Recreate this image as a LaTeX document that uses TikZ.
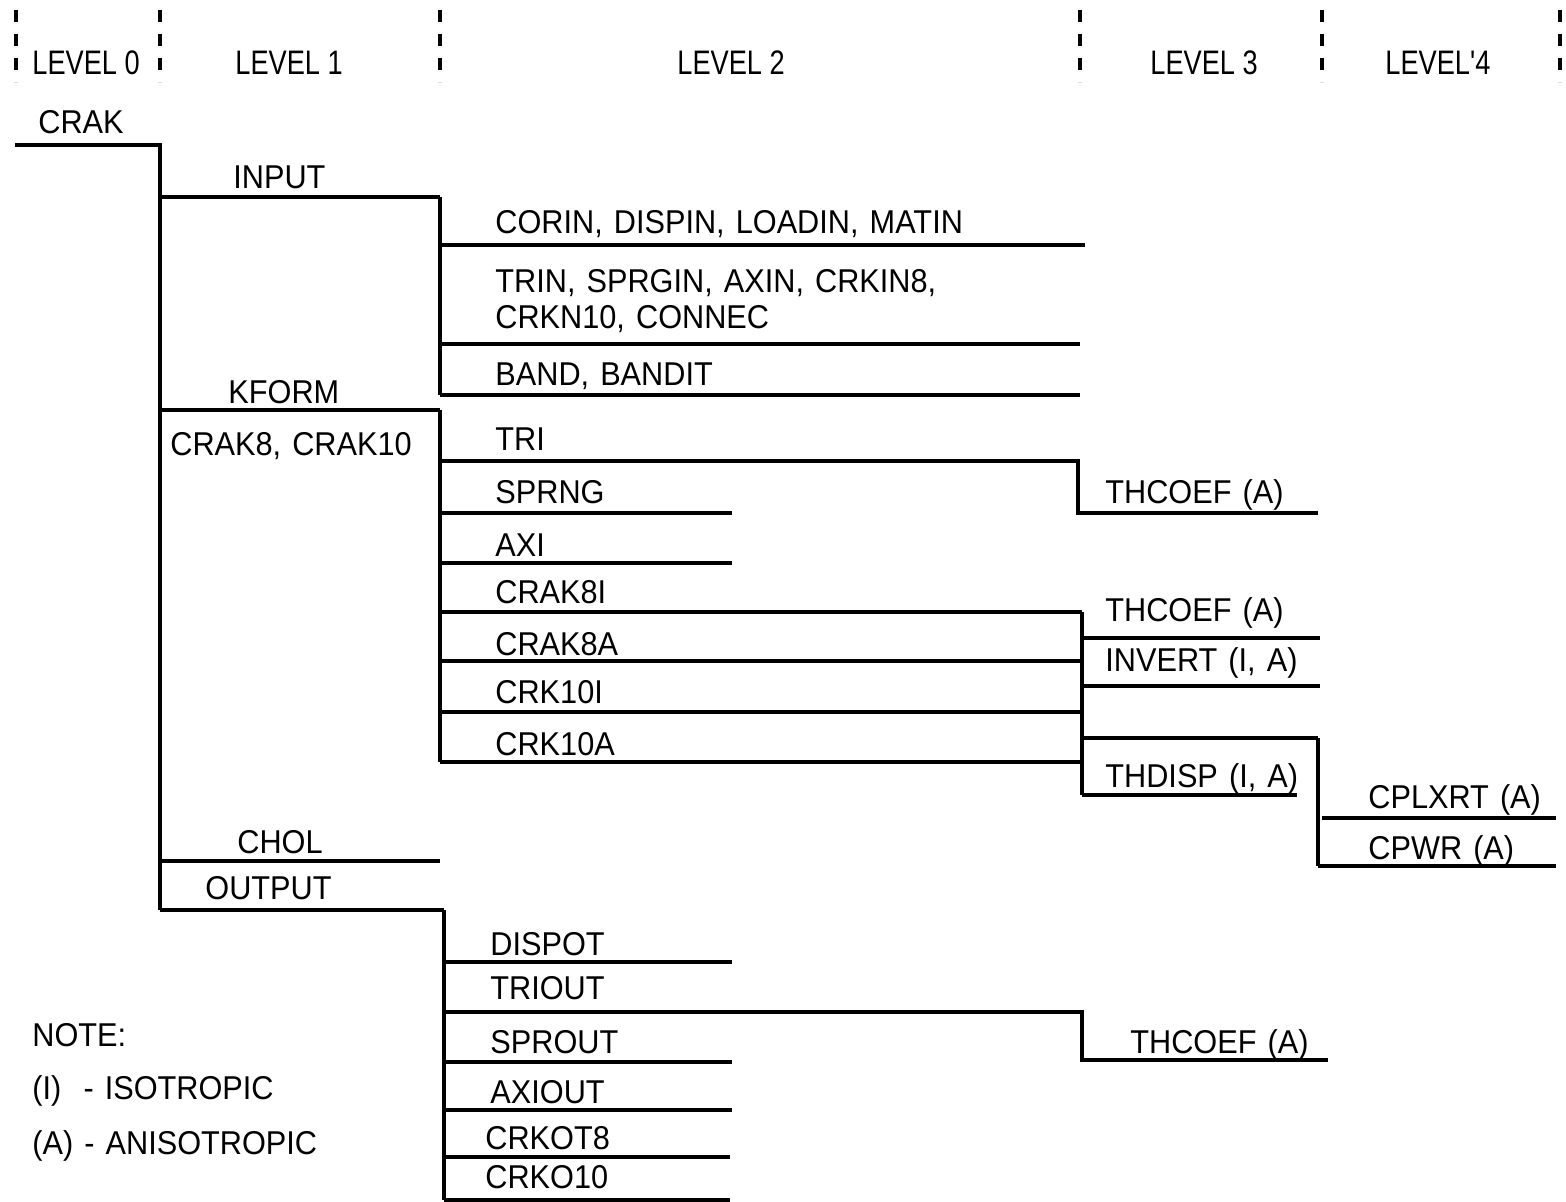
\documentclass[tikz,border=0pt]{standalone}
\usepackage{fontspec}
\setmainfont{Liberation Sans}[FakeStretch=0.93, WordSpace=1.3]
\newfontfamily\hdrfont{Liberation Sans}[FakeStretch=0.8]
\begin{document}
\begin{tikzpicture}[x=0.5pt,y=-0.5pt,
  wire/.style={line width=1.6pt, line join=miter},
  lbl/.style={inner sep=0pt, font=\fontsize{16.5}{20}\selectfont, anchor=base west},
  hdr/.style={lbl, font=\hdrfont\fontsize{17}{20}\selectfont},
  sepline/.style={line width=2pt, dash pattern=on 6pt off 6pt}]
\useasboundingbox (0,0) rectangle (1566,1202);

% column separators
\foreach \x [count=\i] in {16,160,440,1080,1322,1560}{
  \coordinate (sT\i) at (\x,10);
  \coordinate (sB\i) at (\x,82);
  \draw[sepline] (sT\i) -- (sB\i);
}

% header labels
\node[hdr] (h0) at (32,75) {LEVEL 0};
\node[hdr] (h1) at (235,75) {LEVEL 1};
\node[hdr] (h2) at (677,75) {LEVEL 2};
\node[hdr] (h3) at (1150,75) {LEVEL 3};
\node[hdr] (h4) at (1385,75) {LEVEL'4};

% level 0 / 1 labels
\node[lbl] (crak) at (38,134) {CRAK};
\node[lbl] (input) at (233,189) {INPUT};
\node[lbl] (kform) at (228,404) {KFORM};
\node[lbl] (crak8) at (170,456) {CRAK8, CRAK10};
\node[lbl] (chol) at (237,853) {CHOL};
\node[lbl] (output) at (205,899) {OUTPUT};

% level 2 labels
\node[lbl] (corin) at (495,234) {CORIN, DISPIN, LOADIN, MATIN};
\node[lbl] (trin) at (495,293) {TRIN, SPRGIN, AXIN, CRKIN8,};
\node[lbl] (crkn) at (495,329) {CRKN10, CONNEC};
\node[lbl] (band) at (495,386) {BAND, BANDIT};
\node[lbl] (tri) at (495,451) {TRI};
\node[lbl] (sprng) at (495,504) {SPRNG};
\node[lbl] (axi) at (495,556) {AXI};
\node[lbl] (crak8i) at (495,603) {CRAK8I};
\node[lbl] (crak8a) at (495,655) {CRAK8A};
\node[lbl] (crk10i) at (495,703) {CRK10I};
\node[lbl] (crk10a) at (495,755) {CRK10A};
\node[lbl] (dispot) at (490,955) {DISPOT};
\node[lbl] (triout) at (490,999) {TRIOUT};
\node[lbl] (sprout) at (490,1053) {SPROUT};
\node[lbl] (axiout) at (490,1103) {AXIOUT};
\node[lbl] (crkot8) at (485,1149) {CRKOT8};
\node[lbl] (crko10) at (485,1188) {CRKO10};

% level 3 / 4 labels
\node[lbl] (thcoefA) at (1105,503) {THCOEF (A)};
\node[lbl] (thcoefB) at (1105,621) {THCOEF (A)};
\node[lbl] (invert) at (1105,671) {INVERT (I, A)};
\node[lbl] (thdisp) at (1105,787) {THDISP (I, A)};
\node[lbl] (cplxrt) at (1368,808) {CPLXRT (A)};
\node[lbl] (cpwr) at (1368,859) {CPWR (A)};
\node[lbl] (thcoefC) at (1130,1053) {THCOEF (A)};

% note
\node[lbl] (note) at (32,1046) {NOTE:};
\node[lbl] (iso) at (32,1099) {(I)\ \ - ISOTROPIC};
\node[lbl] (aniso) at (32,1154) {(A) - ANISOTROPIC};

% ---- connectors ----
% level 0 spine
\coordinate (r0) at (15,145);
\coordinate (r1) at (160,145);
\coordinate (r2) at (160,910);
\draw[wire] (r0) -- (r1) -- (r2);

% level 1 branches
\coordinate (inA) at (160,197);  \coordinate (inB) at (440,197);
\coordinate (kfA) at (160,410);  \coordinate (kfB) at (440,410);
\coordinate (chA) at (160,861);  \coordinate (chB) at (440,861);
\coordinate (otB) at (444,910);
\draw[wire] (inA) -- (inB);
\draw[wire] (kfA) -- (kfB);
\draw[wire] (chA) -- (chB);
\draw[wire] (r2) -- (otB);

% INPUT children
\coordinate (inC) at (440,395);
\draw[wire] (inB) -- (inC);
\coordinate (i1a) at (440,245); \coordinate (i1b) at (1085,245);
\coordinate (i2a) at (440,344); \coordinate (i2b) at (1080,344);
\coordinate (i3b) at (1080,395);
\draw[wire] (i1a) -- (i1b);
\draw[wire] (i2a) -- (i2b);
\draw[wire] (inC) -- (i3b);

% KFORM children
\coordinate (kfC) at (440,762);
\draw[wire] (kfB) -- (kfC);
\coordinate (k1a) at (440,461); \coordinate (k1b) at (1078,461);
\coordinate (k1c) at (1078,513); \coordinate (k1d) at (1318,513);
\draw[wire] (k1a) -- (k1b) -- (k1c) -- (k1d);
\coordinate (k2a) at (440,513); \coordinate (k2b) at (732,513);
\coordinate (k3a) at (440,563); \coordinate (k3b) at (732,563);
\draw[wire] (k2a) -- (k2b);
\draw[wire] (k3a) -- (k3b);
\coordinate (k4a) at (440,612); \coordinate (k4b) at (1082,612);
\coordinate (k5a) at (440,661); \coordinate (k5b) at (1082,661);
\coordinate (k6a) at (440,712); \coordinate (k6b) at (1082,712);
\coordinate (k7b) at (1082,762);
\draw[wire] (k4a) -- (k4b);
\draw[wire] (k5a) -- (k5b);
\draw[wire] (k6a) -- (k6b);
\draw[wire] (kfC) -- (k7b);

% level 3 spine
\coordinate (l3b) at (1082,795);
\draw[wire] (k4b) -- (l3b);
\coordinate (t1a) at (1082,638); \coordinate (t1b) at (1320,638);
\coordinate (t2a) at (1082,686); \coordinate (t2b) at (1320,686);
\coordinate (t3a) at (1082,738); \coordinate (t3b) at (1318,738);
\coordinate (t4b) at (1297,795);
\draw[wire] (t1a) -- (t1b);
\draw[wire] (t2a) -- (t2b);
\draw[wire] (t3a) -- (t3b);
\draw[wire] (l3b) -- (t4b);

% level 4
\coordinate (l4b) at (1318,866);
\draw[wire] (t3b) -- (l4b);
\coordinate (f1a) at (1322,818); \coordinate (f1b) at (1556,818);
\coordinate (f2b) at (1556,866);
\draw[wire] (f1a) -- (f1b);
\draw[wire] (l4b) -- (f2b);

% OUTPUT children
\coordinate (otC) at (444,1200);
\draw[wire] (otB) -- (otC);
\coordinate (o1a) at (444,962);  \coordinate (o1b) at (732,962);
\coordinate (o2a) at (444,1012); \coordinate (o2b) at (1082,1012);
\coordinate (o2c) at (1082,1060); \coordinate (o2d) at (1328,1060);
\coordinate (o3a) at (444,1062); \coordinate (o3b) at (732,1062);
\coordinate (o4a) at (444,1110); \coordinate (o4b) at (732,1110);
\coordinate (o5a) at (444,1157); \coordinate (o5b) at (730,1157);
\coordinate (o6b) at (730,1200);
\draw[wire] (o1a) -- (o1b);
\draw[wire] (o2a) -- (o2b) -- (o2c) -- (o2d);
\draw[wire] (o3a) -- (o3b);
\draw[wire] (o4a) -- (o4b);
\draw[wire] (o5a) -- (o5b);
\draw[wire] (otC) -- (o6b);
\end{tikzpicture}
\end{document}
